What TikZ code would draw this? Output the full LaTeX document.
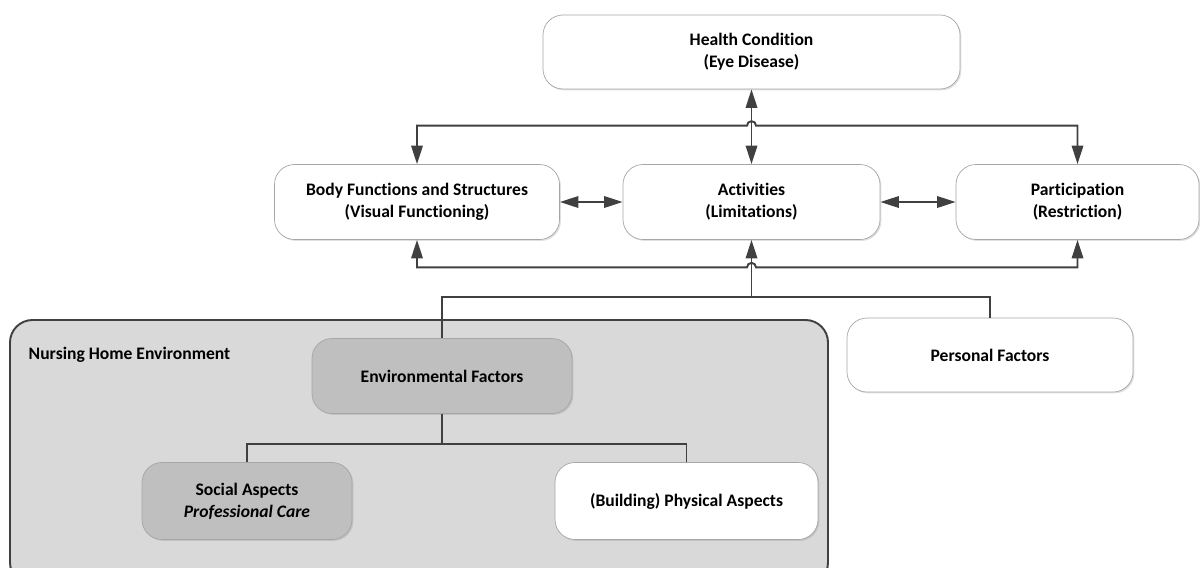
\documentclass[tikz,border=0pt]{standalone}
\usepackage{fontspec}
\setmainfont{Carlito}[RawFeature=-liga]
\usetikzlibrary{arrows.meta}
\usetikzlibrary{calc}
\usetikzlibrary{positioning,shadows}

\definecolor{linegray}{HTML}{404040}
\definecolor{boxline}{HTML}{A6A6A6}
\definecolor{envfill}{HTML}{D9D9D9}
\definecolor{boxfill}{HTML}{BFBFBF}

\begin{document}
\begin{tikzpicture}
[>={Triangle[length=10.5pt,width=6.5pt]},
box/.style={draw=boxline,fill=white,rounded corners=0.4cm,minimum height=1.5cm,align=center,
  font=\fontsize{10}{12.5}\selectfont\bfseries,
  drop shadow={opacity=0.25,shadow xshift=0.8pt,shadow yshift=-0.8pt}},
gbox/.style={box,fill=boxfill},
link/.style={draw=linegray,line width=1.1pt}]

\useasboundingbox (0,0) rectangle (24,-11.34);

% outer environment
\node[draw=linegray,line width=1.1pt,fill=envfill,rounded corners=0.45cm,
  minimum width=16.36cm,minimum height=5.3cm] (nhe) at (8.38,-9.05) {};
\node[anchor=west,font=\fontsize{10}{12.5}\selectfont\bfseries] (nhel) at (0.45,-7.1) {Nursing Home Environment};

\node[box,minimum width=8.34cm,minimum height=1.48cm] (hc) at (15.03,-1.04) {Health Condition\\(Eye Disease)};
\node[box,minimum width=5.7cm] (body) at (8.34,-4.04) {Body Functions and Structures\\(Visual Functioning)};
\node[box,minimum width=5.14cm] (act) at (15.03,-4.04) {Activities\\(Limitations)};
\node[box,minimum width=4.86cm] (part) at (21.55,-4.04) {Participation\\(Restriction)};
\node[box,minimum width=5.72cm,minimum height=1.48cm] (pers) at (19.8,-7.1) {Personal Factors};
\node[gbox,minimum width=5.2cm] (envf) at (8.84,-7.52) {Environmental Factors};
\node[gbox,minimum width=4.2cm,minimum height=1.54cm] (soc) at (4.94,-10.02) {Social Aspects\\\itshape Professional Care};
\node[box,minimum width=5.26cm,minimum height=1.54cm] (bld) at (13.73,-10.02) {(Building) Physical Aspects};

% arrows round the middle row
\draw[link,<->] (hc.south) -- (act.north);
\draw[link,<->] (body.north) |- ($(act.north)+(-0.09,0.77)$)
  arc[start angle=180,end angle=0,radius=0.09] -| (part.north);
\draw[link,<->] (body.east) -- (act.west);
\draw[link,<->] (act.east) -- (part.west);
\draw[link,<->] (body.south) |- ($(act.south)+(-0.09,-0.55)$)
  arc[start angle=180,end angle=0,radius=0.09] -| (part.south);

% contextual factors
\coordinate (jn) at ($(act.south)+(0,-1.15)$);
\draw[link,->] (jn) -- (act.south);
\draw[link] (envf.north) |- (jn) -| (pers.north);

\coordinate (ej) at ($(envf.south)+(0,-0.61)$);
\draw[link] (envf.south) -- (ej);
\draw[link] (soc.north) |- (ej) -| (bld.north);

\end{tikzpicture}
\end{document}
